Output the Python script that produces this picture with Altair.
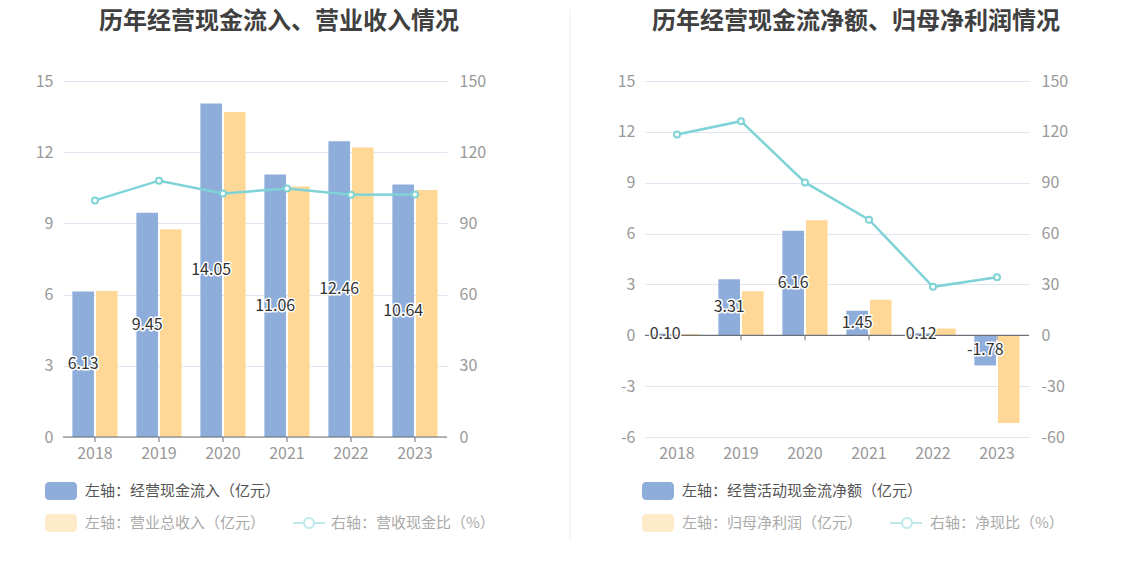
import altair as alt
import pandas as pd

years = ["2018", "2019", "2020", "2021", "2022", "2023"]

# Left panel
cash_inflow = [6.13, 9.45, 14.05, 11.06, 12.46, 10.64]
revenue = [6.15, 8.75, 13.69, 10.56, 12.20, 10.41]
cash_ratio = [99.7, 108.0, 102.6, 104.7, 102.1, 102.2]

# Right panel
net_cash = [0.10, 3.31, 6.16, 1.45, 0.12, -1.78]
net_profit = [0.08, 2.60, 6.78, 2.09, 0.40, -5.18]
net_ratio = [118.4, 126.3, 90.2, 68.2, 28.6, 34.3]

titles = ["历年经营现金流入、营业收入情况", "历年经营现金流净额、归母净利润情况"]
left_names = ["左轴：经营现金流入（亿元）", "左轴：营业总收入（亿元）", "右轴：营收现金比（%）"]
right_names = ["左轴：经营活动现金流净额（亿元）", "左轴：归母净利润（亿元）", "右轴：净现比（%）"]

FONT = "Noto Sans CJK SC"
BLUE = "#8eaddb"
ORANGE = "#ffd897"
TEAL = "#7fd3d7"
AXIS = "#6e7079"
GRID = "#e0e6f1"
LBL = "#999999"
W, H = 384, 356
MINUS = "\u2212"


def one(text):
    return pd.DataFrame({"t": [text]})


def panel(title, b1, b2, ratio, names, ydom, yvals, rdom, rvals,
          leg, title_x, divider):
    s1, s2, s3 = names
    d1 = pd.DataFrame({"year": years, "value": b1})
    d2 = pd.DataFrame({"year": years, "value": b2})
    line = pd.DataFrame({"year": years, "ratio": ratio})

    xscale = alt.Scale(domain=years, paddingInner=0.28, paddingOuter=0.14)
    yscale = alt.Scale(domain=ydom, nice=False, zero=False)
    rscale = alt.Scale(domain=rdom, nice=False, zero=False)

    yaxis = alt.Axis(title=None, values=yvals, grid=True, gridColor=GRID, domain=False,
                     ticks=False, labelPadding=10, labelColor=LBL, labelFontSize=16,
                     labelFont=FONT, orient="left", labelExpr="datum.value + ''")
    raxis = alt.Axis(title=None, values=rvals, grid=False, domain=False, ticks=False,
                     labelPadding=12, labelColor=LBL, labelFontSize=16, labelFont=FONT,
                     orient="right", labelExpr="datum.value + ''")

    xenc = alt.X("year:N", scale=xscale, axis=None, sort=years)
    layers = []
    bar1 = alt.Chart(d1).mark_bar(color=BLUE, width=alt.RelativeBandSize(0.47),
                                  xOffset=-11.8).encode(
        x=xenc,
        y=alt.Y("value:Q", scale=yscale, axis=yaxis),
    )
    bar2 = alt.Chart(d2).mark_bar(color=ORANGE, width=alt.RelativeBandSize(0.47),
                                  xOffset=11.8).encode(
        x=xenc,
        y=alt.Y("value:Q", scale=yscale, axis=None),
    )
    layers += [bar1, bar2]

    # category axis: line at zero, ticks at band centres, year labels at the bottom
    zl = alt.Chart(one("z")).mark_rule(color=AXIS, strokeWidth=1.2).encode(
        y=alt.YDatum(0, scale=yscale, axis=None),
        x=alt.value(0), x2=alt.value(W))
    tk = alt.Chart(pd.DataFrame({"year": years})).mark_rule(
        color=AXIS, strokeWidth=1, y2Offset=5).encode(
        x=xenc,
        y=alt.YDatum(0, scale=yscale, axis=None),
        y2=alt.Y2Datum(0))
    yl = alt.Chart(pd.DataFrame({"year": years})).mark_text(
        font=FONT, fontSize=16, color=LBL, baseline="middle").encode(
        x=xenc, y=alt.value(H + 17), text="year:N")
    layers += [zl, tk, yl]

    base_lab = alt.Chart(d1).transform_calculate(
        mid="datum.value / 2",
        txt="replace(format(datum.value, '.2f'), '" + MINUS + "', '-')")
    enc = dict(
        x=xenc,
        y=alt.Y("mid:Q", scale=yscale, axis=None),
        text="txt:N",
    )
    halo = base_lab.mark_text(font=FONT, fontSize=16, color="white", stroke="white",
                              strokeWidth=3, strokeJoin="round", xOffset=-11.8).encode(**enc)
    txt = base_lab.mark_text(font=FONT, fontSize=16, color="#333333",
                             xOffset=-11.8).encode(**enc)
    layers += [halo, txt]

    ln = alt.Chart(line).mark_line(color=TEAL, strokeWidth=2.5).encode(
        x=xenc,
        y=alt.Y("ratio:Q", scale=rscale, axis=raxis))
    pt = alt.Chart(line).mark_point(filled=True, fill="white", stroke=TEAL, strokeWidth=2,
                                    size=36, opacity=1).encode(
        x=xenc,
        y=alt.Y("ratio:Q", scale=rscale, axis=None))
    layers += [ln, pt]

    # title
    layers.append(alt.Chart(one(title)).mark_text(
        font=FONT, fontSize=24, fontWeight="bold", color="#404040",
        align="center", baseline="middle").encode(
        text="t:N", x=alt.value(title_x), y=alt.value(-59)))

    # legend
    sx, tx, lx, cx, ltx = leg
    layers.append(alt.Chart(one("a")).mark_rect(cornerRadius=4, color=BLUE).encode(
        x=alt.value(sx), x2=alt.value(sx + 32), y=alt.value(401), y2=alt.value(419)))
    layers.append(alt.Chart(one(s1)).mark_text(
        font=FONT, fontSize=15, color="#555555", align="left", baseline="middle").encode(
        text="t:N", x=alt.value(tx), y=alt.value(410)))
    layers.append(alt.Chart(one("b")).mark_rect(cornerRadius=4, color="#fdebc9").encode(
        x=alt.value(sx), x2=alt.value(sx + 32), y=alt.value(433), y2=alt.value(451)))
    layers.append(alt.Chart(one(s2)).mark_text(
        font=FONT, fontSize=15, color="#aaaaaa", align="left", baseline="middle").encode(
        text="t:N", x=alt.value(tx), y=alt.value(442)))
    layers.append(alt.Chart(one("c")).mark_rule(color="#bde9eb", strokeWidth=2).encode(
        x=alt.value(lx), x2=alt.value(lx + 32), y=alt.value(442)))
    layers.append(alt.Chart(one("d")).mark_point(
        filled=True, fill="white", stroke="#bde9eb", strokeWidth=2, size=100, opacity=1).encode(
        x=alt.value(cx), y=alt.value(442)))
    layers.append(alt.Chart(one(s3)).mark_text(
        font=FONT, fontSize=15, color="#aaaaaa", align="left", baseline="middle").encode(
        text="t:N", x=alt.value(ltx), y=alt.value(442)))

    if divider:
        layers.append(alt.Chart(one("e")).mark_rule(color="#eeeeee", strokeWidth=1).encode(
            x=alt.value(507), y=alt.value(-72), y2=alt.value(460)))

    return alt.layer(*layers).resolve_scale(y="independent").properties(width=W, height=H)


p1 = panel(titles[0], cash_inflow, revenue, cash_ratio, left_names,
           [0, 15], [0, 3, 6, 9, 12, 15], [0, 150], [0, 30, 60, 90, 120, 150],
           (-18, 22, 230, 246, 268), 216, True)
p2 = panel(titles[1], net_cash, net_profit, net_ratio, right_names,
           [-6, 15], [-6, -3, 0, 3, 6, 9, 12, 15], [-60, 150],
           [-60, -30, 0, 30, 60, 90, 120, 150],
           (-3, 37, 245, 262, 285), 211, False)

chart = alt.hconcat(p1, p2, spacing=46).configure_view(stroke=None).properties(
    padding={"left": 27, "top": 0, "right": 0, "bottom": 0},
    background="white")

chart.save("out.html", embed_options={"renderer": "svg", "actions": False})
